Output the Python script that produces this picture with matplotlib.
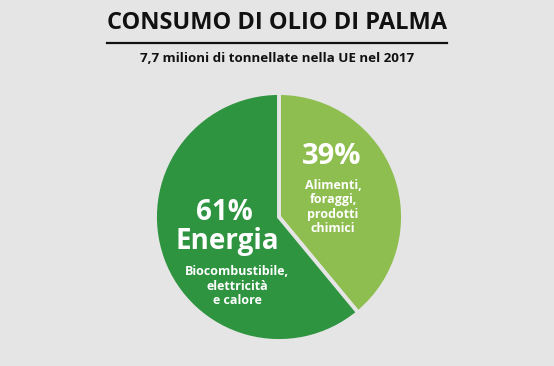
import matplotlib.pyplot as plt
from matplotlib.lines import Line2D

W, H = 554, 366
BG = '#e5e5e5'

labels = ['Alimenti,\nforaggi,\nprodotti\nchimici', 'Energia']
details = ['Biocombustibile,\nelettricità\ne calore']
shares = [39, 61]
colors = ['#8fbe50', '#2e9440']

title = 'CONSUMO DI OLIO DI PALMA'
subtitle = '7,7 milioni di tonnellate nella UE nel 2017'

fig = plt.figure(figsize=(W / 100, H / 100), dpi=100, facecolor=BG)


def fx(x):
    return x / W


def fy(y):
    return 1 - y / H


# pie centred around (279, 217) px, radius ~124 px
ax = fig.add_axes([fx(155), fy(341), 248 / W, 248 / H])
ax.pie(shares, colors=colors, startangle=90, counterclock=False,
       wedgeprops=dict(edgecolor=BG, linewidth=2.8), radius=1)
ax.set_xlim(-1.0, 1.0)
ax.set_ylim(-1.0, 1.0)
ax.set_aspect('equal')
ax.axis('off')

fig.text(fx(277), fy(23), title, ha='center', va='center',
         fontsize=17, fontweight='bold', family='Open Sans', color='#111111')
fig.add_artist(Line2D([fx(107), fx(447)], [fy(43), fy(43)], color='#111111', lw=1.6))
fig.text(fx(277), fy(58), subtitle, ha='center', va='center',
         fontsize=9.6, fontweight='bold', family='Open Sans', color='#111111')

fig.text(fx(332), fy(157), f'{shares[0]}%', ha='center', va='center',
         fontsize=21, fontweight='bold', family='Open Sans', color='white')
fig.text(fx(333), fy(207), labels[0], ha='center', va='center',
         fontsize=9, fontweight='bold', family='Open Sans', color='white', linespacing=1.15)

fig.text(fx(224), fy(212), f'{shares[1]}%', ha='center', va='center',
         fontsize=20, fontweight='bold', family='Open Sans', color='white')
fig.text(fx(227), fy(242), labels[1], ha='center', va='center',
         fontsize=20, fontweight='bold', family='Open Sans', color='white')
fig.text(fx(237), fy(286), details[0], ha='center', va='center',
         fontsize=9, fontweight='bold', family='Open Sans', color='white', linespacing=1.15)

fig.savefig('out.png', dpi=100, facecolor=BG)
